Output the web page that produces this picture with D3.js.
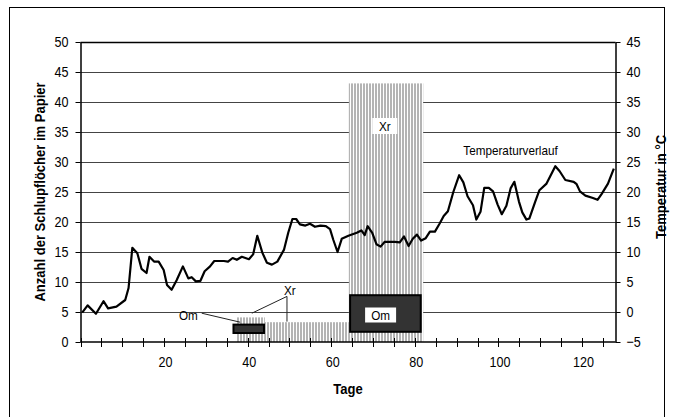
<!DOCTYPE html>
<html>
  <head>
    <meta charset="utf-8">
    <title>Schlupflöcher und Temperatur</title>
    <script src="https://d3js.org/d3.v7.min.js"></script>
    <style>
body { margin: 0; background: #fff; }
text { font-family: "Liberation Sans", Arial, sans-serif; fill: #000; }
.lbl { font-size: 15px; }
.title { font-size: 15.5px; font-weight: bold; }
.note { font-size: 13px; }
    </style>
  </head>
  <body>
<script>
// temperature curve (right axis, °C)
var days = [0.4, 1.7, 3.7, 5.5, 6.6, 8.6, 10.7, 11.5, 12.4, 13.6, 14.6, 15.8, 16.5, 17.6, 18.7, 19.9,
  20.7, 21.8, 23.0, 24.5, 25.8, 26.6, 27.6, 28.7, 29.7, 31.0, 32.0, 34.3, 35.3, 36.4, 37.4, 38.6,
  40.3, 41.3, 42.3, 43.5, 44.6, 45.8, 47.1, 48.7, 49.7, 50.7, 51.6, 52.5, 53.8, 54.9, 56.1, 57.4,
  58.7, 59.7, 60.5, 61.5, 62.5, 64.1, 66.1, 67.2, 68.0, 68.7, 69.8, 70.8, 71.8, 72.8, 75.2, 76.4,
  77.4, 78.5, 79.5, 80.5, 81.5, 82.6, 83.6, 84.8, 85.9, 86.9, 87.9, 89.2, 90.6, 91.6, 92.6, 93.9,
  94.7, 95.7, 96.6, 97.7, 98.7, 99.8, 100.8, 101.9, 102.9, 103.8, 104.9, 105.7, 106.7, 107.4, 108.8,
  109.8, 111.5, 113.6, 114.6, 116.0, 118.0, 118.7, 119.5, 120.8, 122.6, 123.7, 124.7, 126.2, 127.6];
var temps = [-0.1, 1.1, -0.3, 1.8, 0.6, 0.9, 2.0, 4.0, 10.7, 9.8, 7.2, 6.5, 9.2, 8.4, 8.4, 7.0,
  4.5, 3.7, 5.3, 7.6, 5.6, 5.8, 5.1, 5.2, 6.8, 7.6, 8.5, 8.5, 8.4, 9.0, 8.7, 9.2,
  8.8, 9.6, 12.7, 9.9, 8.2, 7.9, 8.4, 10.4, 13.2, 15.5, 15.5, 14.6, 14.4, 14.7, 14.2, 14.4,
  14.3, 13.8, 12.0, 10.0, 12.2, 12.7, 13.2, 13.6, 12.8, 14.3, 13.2, 11.3, 10.9, 11.7, 11.7, 11.6,
  12.6, 11.0, 12.2, 12.9, 11.9, 12.3, 13.4, 13.4, 14.7, 16.0, 16.8, 20.0, 22.8, 21.6, 19.3, 17.8,
  15.4, 16.7, 20.7, 20.7, 20.1, 17.9, 16.3, 17.7, 20.6, 21.7, 18.4, 16.6, 15.4, 15.6, 18.4,
  20.3, 21.4, 24.3, 23.5, 22.0, 21.7, 21.3, 20.1, 19.4, 19.0, 18.7, 19.7, 21.4, 23.9];

// hatched columns (left axis): Xr
var hatchStart = [37.2, 44.1, 64.2],
    hatchEnd = [44.1, 64.2, 82.0],
    hatchTop = [4.1, 3.3, 43.1];

// dark floating boxes (left axis): Om
var omStart = [36.6, 64.5],
    omEnd = [43.9, 81.4],
    omLow = [1.5, 1.7],
    omHigh = [2.9, 7.8];

var leftTicks = d3.range(0, 51, 5),
    rightTicks = d3.range(-5, 46, 5),
    dayTicks = d3.range(0, 126, 5),
    dayLabels = [20, 40, 60, 80, 100, 120];

var width = 673,
    height = 417,
    svg = d3.select("body").append("svg")
      .attr("width", width)
      .attr("height", height);

var x = d3.scaleLinear().domain([0, 128]).range([80.5, 615.5]),
    yL = d3.scaleLinear().domain([0, 50]).range([342, 42]),
    yR = d3.scaleLinear().domain([-5, 45]).range([342, 42]);

// outer frame
svg.append("rect")
  .attr("x", 9.5).attr("y", 7.5)
  .attr("width", 655).attr("height", 430)
  .attr("fill", "none").attr("stroke", "#000");

var pat = svg.append("defs").append("pattern")
  .attr("id", "vlines")
  .attr("patternUnits", "userSpaceOnUse")
  .attr("width", 3).attr("height", 10);
pat.append("rect").attr("width", 3).attr("height", 10).attr("fill", "#fff");
pat.append("rect").attr("width", 2).attr("height", 10).attr("fill", "#b4b4b4");

// gridlines
svg.append("g").selectAll("line").data(leftTicks.slice(1))
  .enter().append("line")
  .attr("x1", x(0)).attr("x2", x(128))
  .attr("y1", function(d) { return Math.round(yL(d)) + 0.5; })
  .attr("y2", function(d) { return Math.round(yL(d)) + 0.5; })
  .attr("stroke", function(d) { return d == 50 ? "#000" : "#444"; })
  .attr("stroke-width", function(d) { return d == 50 ? 1.5 : 1; });

// hatched columns
svg.append("g").selectAll("rect").data(hatchTop)
  .enter().append("rect")
  .attr("x", function(d, i) { return x(hatchStart[i]); })
  .attr("width", function(d, i) { return x(hatchEnd[i]) - x(hatchStart[i]); })
  .attr("y", function(d) { return yL(d); })
  .attr("height", function(d) { return yL(0) - yL(d); })
  .attr("fill", "url(#vlines)");

// Om boxes
svg.append("g").selectAll("rect").data(omHigh)
  .enter().append("rect")
  .attr("x", function(d, i) { return x(omStart[i]); })
  .attr("width", function(d, i) { return x(omEnd[i]) - x(omStart[i]); })
  .attr("y", function(d) { return yL(d); })
  .attr("height", function(d, i) { return yL(omLow[i]) - yL(d); })
  .attr("fill", "#333")
  .attr("stroke", "#000")
  .attr("stroke-width", 2);

// temperature line
var line = d3.line()
  .x(function(d, i) { return x(days[i]); })
  .y(function(d) { return yR(d); });
svg.append("path")
  .datum(temps)
  .attr("d", line)
  .attr("fill", "none")
  .attr("stroke", "#000")
  .attr("stroke-width", 2.2)
  .attr("stroke-linejoin", "round");

// axes
var leftAxis = svg.append("g")
  .attr("transform", "translate(" + x(0) + ",0)")
  .call(d3.axisLeft(yL).tickValues(leftTicks).tickSize(5).tickPadding(7).tickSizeOuter(0));
var rightAxis = svg.append("g")
  .attr("transform", "translate(" + x(128) + ",0)")
  .call(d3.axisRight(yR).tickValues(rightTicks).tickSize(5).tickPadding(6).tickSizeOuter(0));
[leftAxis, rightAxis].forEach(function(a) {
  a.select(".domain").attr("stroke-width", 1.5);
  a.selectAll("text").attr("class", "lbl").attr("font-family", null).attr("font-size", null);
});

var bottom = svg.append("g");
bottom.append("line")
  .attr("x1", x(0)).attr("x2", x(128))
  .attr("y1", yL(0)).attr("y2", yL(0))
  .attr("stroke", "#000").attr("stroke-width", 1.5);
bottom.selectAll(".xt").data(dayTicks)
  .enter().append("line")
  .attr("x1", function(d) { return Math.round(x(d)) + 0.5; })
  .attr("x2", function(d) { return Math.round(x(d)) + 0.5; })
  .attr("y1", yL(0) - 4).attr("y2", yL(0) + 5)
  .attr("stroke", "#000");
bottom.selectAll(".xl").data(dayLabels)
  .enter().append("text")
  .attr("class", "lbl")
  .attr("x", function(d) { return x(d) + 1.5; })
  .attr("y", yL(0) + 25)
  .attr("text-anchor", "middle")
  .text(function(d) { return d; });

// axis titles
svg.append("text").attr("class", "title")
  .attr("transform", "translate(45," + yL(25) + ") rotate(-90)")
  .attr("text-anchor", "middle")
  .text("Anzahl der Schlupflöcher im Papier");
svg.append("text").attr("class", "title")
  .attr("transform", "translate(666," + (yL(25) - 5) + ") rotate(-90)")
  .attr("text-anchor", "middle")
  .text("Temperatur in °C");
svg.append("text").attr("class", "title")
  .attr("x", (x(0) + x(128)) / 2).attr("y", 394)
  .attr("text-anchor", "middle")
  .text("Tage");

// labels inside the big bars
function boxLabel(cx, cy, w, h, txt) {
  svg.append("rect")
    .attr("x", cx - w / 2).attr("y", cy - h / 2)
    .attr("width", w).attr("height", h)
    .attr("fill", "#fff");
  svg.append("text").attr("class", "note")
    .attr("x", cx).attr("y", cy + 5)
    .attr("text-anchor", "middle")
    .text(txt);
}
boxLabel(x(72.8), yL(36), 25, 16, "Xr");
boxLabel(x(71.8), yL(4.5), 31, 15, "Om");

// annotations for the small bars
var ann = svg.append("g").attr("stroke", "#222").attr("stroke-width", 1);
ann.append("line")
  .attr("x1", x(29)).attr("y1", yL(4.8))
  .attr("x2", x(38.2)).attr("y2", yL(3.3));
ann.append("line")
  .attr("x1", x(41)).attr("y1", yL(4.8))
  .attr("x2", x(49.4)).attr("y2", yL(7.6));
ann.append("line")
  .attr("x1", x(49.4)).attr("y1", yL(7.6))
  .attr("x2", x(49.4)).attr("y2", yL(3.4));
svg.append("text").attr("class", "note")
  .attr("x", x(25.8)).attr("y", yL(3.6))
  .attr("text-anchor", "middle")
  .text("Om");
svg.append("text").attr("class", "note")
  .attr("x", x(50.1)).attr("y", yL(7.8))
  .attr("text-anchor", "middle")
  .text("Xr");
svg.append("text").attr("class", "note")
  .attr("x", x(91.6)).attr("y", yL(31.1))
  .text("Temperaturverlauf");

// squeeze all text to the narrow face of the original
svg.selectAll("text").each(function() {
  var k = this.getAttribute("class") == "note" ? 0.9 : 0.84;
  d3.select(this)
    .attr("textLength", this.getComputedTextLength() * k)
    .attr("lengthAdjust", "spacingAndGlyphs");
});
</script>
  </body>
</html>
